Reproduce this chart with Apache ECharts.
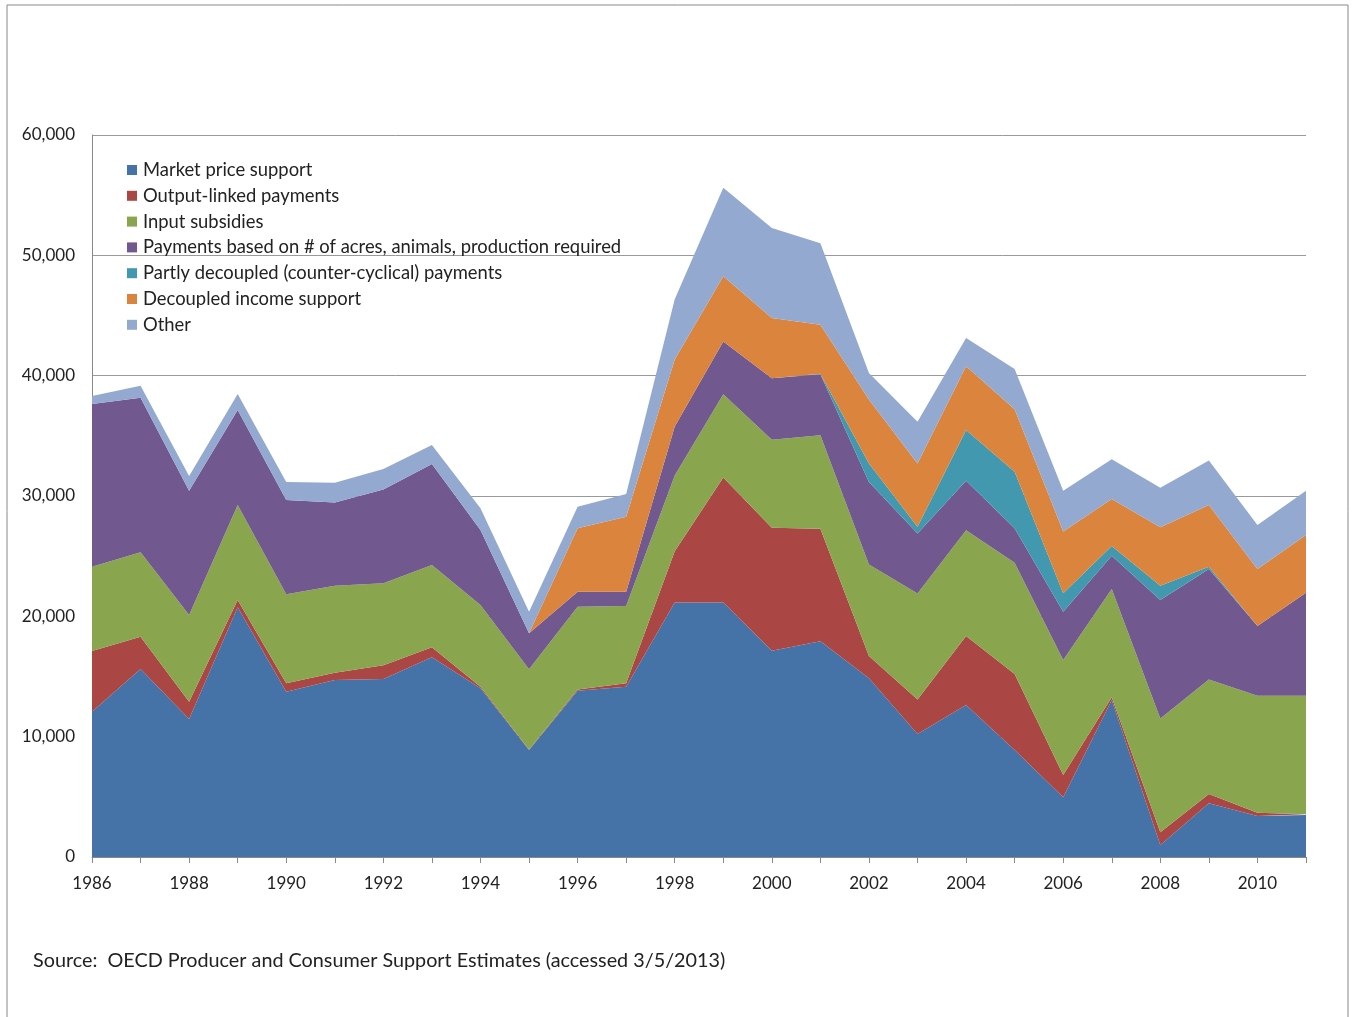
<!DOCTYPE html>
<html>
<head>
<meta charset="utf-8">
<script src="https://cdn.jsdelivr.net/npm/echarts@6/dist/echarts.min.js"></script>
<style>
html,body{margin:0;padding:0;background:#fff;}
#chart{width:1353px;height:1017px;}
</style>
</head>
<body>
<div id="chart"></div>
<script>
const years = ['1986','1987','1988','1989','1990','1991','1992','1993','1994','1995','1996','1997','1998','1999','2000','2001','2002','2003','2004','2005','2006','2007','2008','2009','2010','2011'];
const marketPriceSupport = [12070,15620,11470,20750,13740,14710,14790,16590,14020,8890,13820,14150,21150,21150,17150,17930,14860,10220,12630,8890,4960,13050,1000,4460,3410,3490];
const outputLinked = [5050,2690,1440,610,690,610,1140,840,130,50,110,280,4260,10380,10220,9340,1840,2860,5740,6320,1850,220,1050,780,270,60];
const inputSubsidies = [7010,7010,7200,7890,7400,7230,6810,6840,6790,6660,6870,6430,6300,6920,7310,7780,7600,8820,8790,9250,9560,9000,9470,9520,9730,9860];
const paymentsBased = [13520,12850,10330,7900,7840,6920,7810,8390,6240,2990,1250,1190,4070,4380,5110,5070,6860,4990,4110,2850,4020,2770,9840,9170,5790,8550];
const partlyDecoupled = [0,0,0,0,0,0,0,0,0,0,0,0,0,0,0,30,1550,560,4220,4710,1520,810,1190,200,0,0];
const decoupledIncome = [0,0,0,0,0,0,0,0,0,0,5260,6230,5560,5440,5000,4080,5300,5260,5300,5180,5130,3900,4850,5120,4730,4800];
const other = [660,1000,1220,1330,1490,1640,1690,1580,1800,1800,1800,1890,5010,7340,7480,6780,2220,3450,2330,3350,3400,3300,3290,3690,3660,3680];
const seriesNames = ['Market price support','Output-linked payments','Input subsidies','Payments based on # of acres, animals, production required','Partly decoupled (counter-cyclical) payments','Decoupled income support','Other'];
const seriesData = [marketPriceSupport,outputLinked,inputSubsidies,paymentsBased,partlyDecoupled,decoupledIncome,other];
const colors = ['#4572A7','#AA4643','#89A54E','#71588F','#4198AF','#DB843D','#93A9CF'];
const sourceText = 'Source:  OECD Producer and Consumer Support Estimates (accessed 3/5/2013)';

const FONT = 'Lato, "Open Sans", sans-serif';
const chart = echarts.init(document.getElementById('chart'), null, {renderer:'canvas'});
chart.setOption({
  animation:false,
  color:colors,
  grid:{left:92,right:47,top:135,bottom:160,containLabel:false},
  legend:{
    orient:'vertical', left:122, top:156,
    itemWidth:10, itemHeight:10, itemGap:7.8,
    icon:'rect',
    textStyle:{fontFamily:FONT,fontSize:18.4,color:'#222',lineHeight:18,padding:[0,0,0,1]},
    data:seriesNames
  },
  xAxis:{
    type:'category', data:years, boundaryGap:false,
    axisLine:{lineStyle:{color:'#888',width:1}},
    axisTick:{show:true,interval:0,length:6,lineStyle:{color:'#888'}},
    axisLabel:{interval:1,fontFamily:FONT,fontSize:17,color:'#222',margin:18}
  },
  yAxis:{
    type:'value', min:0, max:60000, interval:10000,
    axisLine:{show:true,lineStyle:{color:'#888',width:1}},
    axisTick:{show:false},
    splitLine:{lineStyle:{color:'#999',width:1}},
    axisLabel:{fontFamily:FONT,fontSize:17,color:'#222',margin:17,
      formatter:function(v){return v.toLocaleString('en-US');}}
  },
  series:seriesNames.map(function(n,i){
    return {name:n,type:'line',stack:'total',data:seriesData[i],symbol:'none',
      lineStyle:{width:0},areaStyle:{color:colors[i],opacity:1},itemStyle:{color:colors[i]}};
  }),
  graphic:[
    {type:'rect',shape:{x:7,y:5,width:1341,height:1030},style:{fill:'none',stroke:'#888',lineWidth:1},silent:true},
    {type:'text',left:33,top:951,style:{text:sourceText,font:'19.8px '+FONT,fill:'#222'}}
  ]
});
</script>
</body>
</html>
